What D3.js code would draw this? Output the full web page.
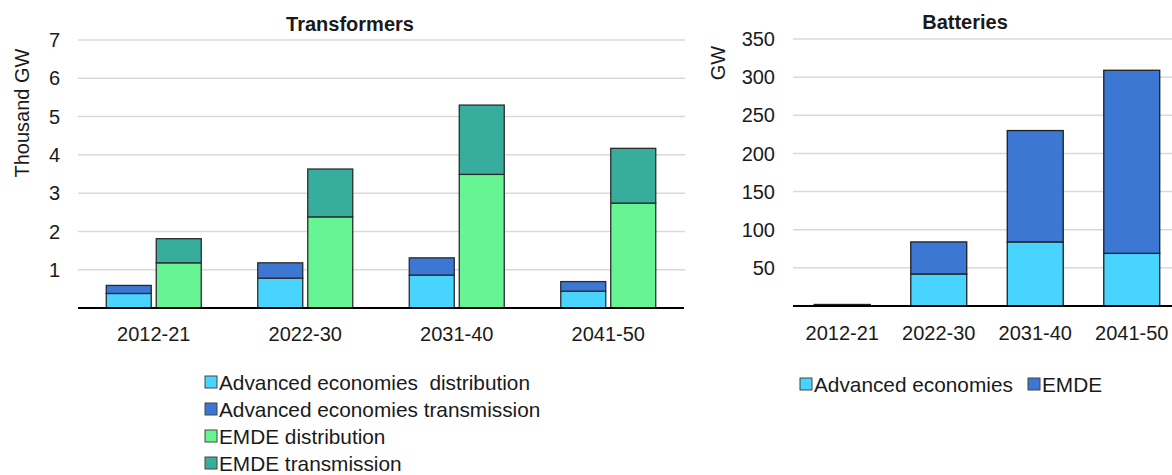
<!DOCTYPE html>
<html><head><meta charset="utf-8">
<script src="https://cdn.jsdelivr.net/npm/d3@7"></script>
<style>body{margin:0;background:#fff}svg{display:block}text{font-family:"Liberation Sans",Arial,sans-serif;fill:#1a1a1a}</style>
</head><body>
<svg id="c" width="1172" height="475"></svg>
<script>
// ---- data ----
const periods = ["2012-21", "2022-30", "2031-40", "2041-50"];
// Transformers (thousand GW)
const aeDistribution   = [0.38, 0.78, 0.86, 0.44];
const aeTransmission   = [0.21, 0.40, 0.45, 0.25];
const emdeDistribution = [1.18, 2.38, 3.49, 2.74];
const emdeTransmission = [0.63, 1.25, 1.81, 1.43];
const transformerTicks = [1, 2, 3, 4, 5, 6, 7];
// Batteries (GW)
const batteryAE   = [1, 42, 84, 69];
const batteryEMDE = [1, 42, 146, 240];
const batteryTicks = [50, 100, 150, 200, 250, 300, 350];

const colors = {
  aeDist: "#48d4ff", aeTrans: "#3b77d3", emdeDist: "#66f592", emdeTrans: "#37ad9e"
};
const FONT = 20;
const LFONT = 20.8;
const svg = d3.select("#c");

// ---------- Transformers ----------
{
  const x = d3.scaleBand().domain(periods).range([78, 684]);
  const sub = d3.scaleBand().domain(["AE", "EMDE"]).range([28.25, 123.25]).paddingInner(0.1);
  const y = d3.scaleLinear().domain([0, 7]).range([308, 40]);

  const g = svg.append("g");
  g.selectAll("line.grid").data(transformerTicks).join("line")
    .attr("x1", 78).attr("x2", 685).attr("y1", d => y(d)).attr("y2", d => y(d))
    .attr("stroke", "#d9d9d9").attr("stroke-width", 1.5);
  g.selectAll("text.tick").data(transformerTicks).join("text")
    .attr("x", 60).attr("y", d => y(d)).attr("text-anchor", "end").attr("dy", "0.36em")
    .attr("font-size", FONT).text(d => d);

  const stacks = [
    {grp: "AE", parts: [{v: aeDistribution, c: colors.aeDist}, {v: aeTransmission, c: colors.aeTrans}]},
    {grp: "EMDE", parts: [{v: emdeDistribution, c: colors.emdeDist}, {v: emdeTransmission, c: colors.emdeTrans}]}
  ];
  const rects = [];
  periods.forEach((p, i) => {
    stacks.forEach(s => {
      let base = 0;
      s.parts.forEach(part => {
        rects.push({p, grp: s.grp, y0: base, y1: base + part.v[i], c: part.c});
        base += part.v[i];
      });
    });
  });
  g.selectAll("rect.bar").data(rects).join("rect")
    .attr("x", d => x(d.p) + sub(d.grp)).attr("width", sub.bandwidth())
    .attr("y", d => y(d.y1)).attr("height", d => y(d.y0) - y(d.y1))
    .attr("fill", d => d.c).attr("stroke", "#2b2b2b").attr("stroke-width", 1.3);

  g.append("line").attr("x1", 78).attr("x2", 684).attr("y1", y(0)).attr("y2", y(0))
    .attr("stroke", "#000").attr("stroke-width", 2);
  g.selectAll("text.xl").data(periods).join("text")
    .attr("x", d => x(d) + x.bandwidth() / 2).attr("y", 334).attr("dy", "0.36em")
    .attr("text-anchor", "middle").attr("font-size", FONT).text(d => d);

  g.append("text").attr("x", 350).attr("y", 23.5).attr("dy", "0.36em").attr("text-anchor", "middle")
    .attr("font-size", FONT).attr("font-weight", "bold").text("Transformers");
  g.append("text").attr("transform", "translate(22,113) rotate(-90)").attr("dy", "0.36em")
    .attr("text-anchor", "middle").attr("font-size", FONT).text("Thousand GW");

  const legend = [
    {t: "Advanced economies\u00a0 distribution", c: colors.aeDist},
    {t: "Advanced economies transmission", c: colors.aeTrans},
    {t: "EMDE distribution", c: colors.emdeDist},
    {t: "EMDE transmission", c: colors.emdeTrans}
  ];
  const lg = g.selectAll("g.lg").data(legend).join("g")
    .attr("transform", (d, i) => `translate(205,${382 + i * 27})`);
  lg.append("rect").attr("x", 0).attr("y", -6).attr("width", 12).attr("height", 12)
    .attr("fill", d => d.c).attr("stroke", "#444").attr("stroke-width", 1);
  lg.append("text").attr("x", 14).attr("dy", "0.36em").attr("font-size", LFONT).text(d => d.t);
}

// ---------- Batteries ----------
{
  const x = d3.scaleBand().domain(periods).range([794, 1180]).paddingInner(0.42).paddingOuter(0.21);
  const y = d3.scaleLinear().domain([0, 350]).range([306, 39]);
  const g = svg.append("g");
  g.selectAll("line.grid").data(batteryTicks).join("line")
    .attr("x1", 793).attr("x2", 1172).attr("y1", d => y(d)).attr("y2", d => y(d))
    .attr("stroke", "#d9d9d9").attr("stroke-width", 1.5);
  g.selectAll("text.tick").data(batteryTicks).join("text")
    .attr("x", 775).attr("y", d => y(d)).attr("text-anchor", "end").attr("dy", "0.36em")
    .attr("font-size", FONT).text(d => d);

  const rects = [];
  periods.forEach((p, i) => {
    rects.push({p, y0: 0, y1: batteryAE[i], c: colors.aeDist});
    rects.push({p, y0: batteryAE[i], y1: batteryAE[i] + batteryEMDE[i], c: colors.aeTrans});
  });
  g.selectAll("rect.bar").data(rects).join("rect")
    .attr("x", d => x(d.p)).attr("width", x.bandwidth())
    .attr("y", d => y(d.y1)).attr("height", d => y(d.y0) - y(d.y1))
    .attr("fill", d => d.c).attr("stroke", "#1f1f1f").attr("stroke-width", 1.3);

  g.append("line").attr("x1", 793).attr("x2", 1172).attr("y1", y(0)).attr("y2", y(0))
    .attr("stroke", "#000").attr("stroke-width", 2);
  g.selectAll("text.xl").data(periods).join("text")
    .attr("x", d => x(d) + x.bandwidth() / 2).attr("y", 333).attr("dy", "0.36em")
    .attr("text-anchor", "middle").attr("font-size", FONT).text(d => d);

  g.append("text").attr("x", 965).attr("y", 22).attr("dy", "0.36em").attr("text-anchor", "middle")
    .attr("font-size", FONT).attr("font-weight", "bold").text("Batteries");
  g.append("text").attr("transform", "translate(718,63) rotate(-90)").attr("dy", "0.36em")
    .attr("text-anchor", "middle").attr("font-size", FONT).text("GW");

  const legend = [
    {t: "Advanced economies", c: colors.aeDist, x: 800},
    {t: "EMDE", c: colors.aeTrans, x: 1028}
  ];
  const lg = g.selectAll("g.lg").data(legend).join("g")
    .attr("transform", d => `translate(${d.x},384)`);
  lg.append("rect").attr("x", 0).attr("y", -6).attr("width", 12).attr("height", 12)
    .attr("fill", d => d.c).attr("stroke", "#444").attr("stroke-width", 1);
  lg.append("text").attr("x", 14).attr("dy", "0.36em").attr("font-size", LFONT).text(d => d.t);
}
</script>
</body></html>
